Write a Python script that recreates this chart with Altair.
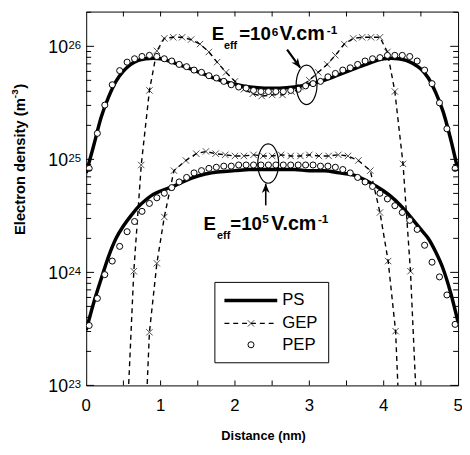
import altair as alt
import pandas as pd

# ---------------- data (log10 of electron density, m^-3) ----------------
ps_x = [0.0, 0.1, 0.2, 0.3, 0.4, 0.5, 0.6, 0.7, 0.8, 0.9, 1.0,
        1.2, 1.4, 1.6, 1.8, 2.0, 2.2, 2.4, 2.6, 2.8, 3.0, 3.2, 3.4, 3.6, 3.8,
        4.0, 4.1, 4.2, 4.3, 4.4, 4.5, 4.6, 4.7, 4.8, 4.9, 5.0]
ps_hi_log = [24.88, 25.12, 25.37, 25.55, 25.69, 25.78, 25.84, 25.875, 25.89, 25.895, 25.89,
             25.85, 25.80, 25.75, 25.70, 25.665, 25.64, 25.63, 25.63, 25.64, 25.665, 25.70, 25.75, 25.80, 25.85,
             25.89, 25.895, 25.89, 25.875, 25.845, 25.80, 25.72, 25.59, 25.42, 25.18, 24.90]
ps_lo_log = [23.49, 23.73, 23.94, 24.14, 24.30, 24.41, 24.50, 24.58, 24.64, 24.69, 24.72,
             24.77, 24.83, 24.87, 24.89, 24.90, 24.91, 24.91, 24.91, 24.91, 24.90, 24.90, 24.88, 24.86, 24.80,
             24.72, 24.67, 24.61, 24.54, 24.46, 24.38, 24.30, 24.18, 24.03, 23.82, 23.56]

gep_hi_x = [0.55, 0.64, 0.74, 0.85, 0.95, 1.05, 1.17, 1.29, 1.41, 1.53, 1.65, 1.76, 1.88, 2.0,
            2.12, 2.24, 2.36, 2.5, 2.64, 2.76, 2.88, 3.0, 3.12, 3.24, 3.35, 3.47, 3.59, 3.71,
            3.83, 3.95, 4.05, 4.15, 4.26, 4.36, 4.45]
gep_hi_log = [22.7, 24.01, 24.95, 25.61, 25.96, 26.07, 26.08, 26.08, 26.06, 26.02, 25.95, 25.86, 25.77, 25.69,
              25.62, 25.58, 25.56, 25.57, 25.57, 25.60, 25.64, 25.70, 25.77, 25.84, 25.92, 26.02, 26.07, 26.08,
              26.08, 26.08, 25.95, 25.60, 24.96, 24.01, 22.7]
gep_lo_x = [0.80, 0.85, 0.95, 1.05, 1.18, 1.34, 1.48, 1.61, 1.74, 1.87, 2.0, 2.12, 2.25, 2.38, 2.5,
            2.62, 2.75, 2.88, 3.0, 3.13, 3.26, 3.39, 3.52, 3.66, 3.82, 3.95, 4.06, 4.16, 4.21]
gep_lo_log = [22.7, 23.47, 24.08, 24.49, 24.90, 24.99, 25.05, 25.07, 25.05, 25.04, 25.03, 25.03, 25.04, 25.03, 25.03,
              25.04, 25.03, 25.03, 25.04, 25.03, 25.03, 25.04, 25.03, 24.99, 24.90, 24.53, 24.10, 23.48, 22.7]

pep_x = [0.04, 0.15, 0.25, 0.35, 0.45, 0.55, 0.65, 0.75, 0.85, 0.95, 1.05, 1.15, 1.25, 1.35, 1.45,
         1.55, 1.65, 1.75, 1.85, 1.95, 2.05, 2.15, 2.25, 2.35, 2.45, 2.55, 2.65, 2.75, 2.85, 2.95,
         3.05, 3.15, 3.25, 3.35, 3.45, 3.55, 3.65, 3.75, 3.85, 3.95, 4.05, 4.15, 4.25, 4.35, 4.45,
         4.55, 4.65, 4.75, 4.85, 4.96]
pep_hi_log = [24.92, 25.23, 25.48, 25.66, 25.785, 25.86, 25.89, 25.91, 25.92, 25.91, 25.89, 25.87, 25.84, 25.82, 25.79,
              25.77, 25.74, 25.72, 25.69, 25.66, 25.64, 25.63, 25.61, 25.60, 25.60, 25.60, 25.60, 25.61, 25.62, 25.65,
              25.67, 25.69, 25.73, 25.76, 25.79, 25.81, 25.84, 25.87, 25.89, 25.90, 25.92, 25.92, 25.92, 25.91, 25.87,
              25.79, 25.67, 25.50, 25.27, 24.92]
pep_lo_log = [23.53, 23.77, 23.98, 24.10, 24.23, 24.36, 24.45, 24.54, 24.61, 24.66, 24.70, 24.75, 24.80, 24.84, 24.88,
              24.90, 24.92, 24.93, 24.94, 24.94, 24.95, 24.95, 24.95, 24.95, 24.95, 24.95, 24.95, 24.95, 24.95, 24.95,
              24.95, 24.94, 24.94, 24.93, 24.91, 24.88, 24.84, 24.80, 24.76, 24.70, 24.65, 24.59, 24.53, 24.46, 24.38,
              24.24, 24.09, 23.96, 23.80, 23.54]

x_label_vals = [0, 1, 2, 3, 4, 5]
x_tick_vals = [0.5, 1.0, 1.5, 2.0, 2.5, 3.0, 3.5, 4.0, 4.5]
y_major_vals = [1e23, 1e24, 1e25, 1e26]
y_exp_labels = ["23", "24", "25", "26"]
y_minor_vals = [m * 10.0 ** e for e in (23, 24, 25) for m in range(2, 10)] + [2e26]
legend_labels = ["PS", "GEP", "PEP"]
field_labels = ["1e6", "1e5"]

# ---------------- layout / style ----------------
W, H = 378, 380
FONT = "Liberation Sans, Arial, sans-serif"

xsc = alt.Scale(domain=[0, 5], nice=False, zero=False)
ysc = alt.Scale(type="log", domain=[1e23, 2.03e26], nice=False)


def frame(xv, lv, name):
    return pd.DataFrame({"x": xv, "n": [10 ** v for v in lv], "field": name})


ps_df = pd.concat([frame(ps_x, ps_hi_log, field_labels[0]), frame(ps_x, ps_lo_log, field_labels[1])])
gep_df = pd.concat([frame(gep_hi_x, gep_hi_log, field_labels[0]), frame(gep_lo_x, gep_lo_log, field_labels[1])])
pep_df = pd.concat([frame(pep_x, pep_hi_log, field_labels[0]), frame(pep_x, pep_lo_log, field_labels[1])])

X = alt.X("x:Q", scale=xsc, axis=None)
Y = alt.Y("n:Q", scale=ysc, axis=None)

XPATH = "M-1,-1L1,1M-1,1L1,-1"
ELLIPSE = ("M0,-1C0.293,-1 0.53,-0.552 0.53,0C0.53,0.552 0.293,1 0,1"
           "C-0.293,1 -0.53,0.552 -0.53,0C-0.53,-0.552 -0.293,-1 0,-1Z")
HEAD = "M0,0L0.8,1.9L0,1.3L-0.8,1.9Z"

layers = []

gep_line = alt.Chart(gep_df).mark_line(color="black", strokeWidth=1.4, strokeDash=[5, 4], clip=True).encode(
    x=X, y=Y, detail="field:N")
gep_pts = alt.Chart(gep_df).mark_point(shape=XPATH, size=42, color="black", strokeWidth=1, filled=False,
                                       clip=True).encode(x=X, y=Y)
ps_line = alt.Chart(ps_df).mark_line(color="black", strokeWidth=3.5, interpolate="monotone", clip=True).encode(
    x=X, y=Y, detail="field:N")
pep_pts = alt.Chart(pep_df).mark_point(shape="circle", size=38, fill="white", stroke="black", strokeWidth=1,
                                       filled=True, opacity=1, clip=True).encode(x=X, y=Y)
layers += [gep_line, ps_line, gep_pts, pep_pts]

# ticks (inward)
xt = pd.DataFrame({"x": x_tick_vals})
layers.append(alt.Chart(xt).mark_rule(color="black", strokeWidth=1).encode(x=X, y=alt.value(H), y2=alt.value(H - 5)))
layers.append(alt.Chart(xt).mark_rule(color="black", strokeWidth=1).encode(x=X, y=alt.value(0), y2=alt.value(5)))
ymaj = pd.DataFrame({"n": y_major_vals, "e": y_exp_labels})
ymin = pd.DataFrame({"n": y_minor_vals})
for df, ln in ((ymaj, 8), (ymin, 5)):
    layers.append(alt.Chart(df).mark_rule(color="black", strokeWidth=1).encode(y=Y, x=alt.value(0), x2=alt.value(ln)))
    layers.append(alt.Chart(df).mark_rule(color="black", strokeWidth=1).encode(y=Y, x=alt.value(W), x2=alt.value(W - ln)))

# y tick labels 10^k
layers.append(alt.Chart(ymaj).mark_text(align="right", baseline="alphabetic", fontSize=18, font=FONT, dy=7,
                                        color="black").encode(y=Y, x=alt.value(-18.5), text=alt.value("10")))
layers.append(alt.Chart(ymaj).mark_text(align="left", baseline="alphabetic", fontSize=11.5, font=FONT, dy=2.5,
                                        color="black").encode(y=Y, x=alt.value(-18), text="e:N"))

# x tick labels
xl = pd.DataFrame({"x": x_label_vals, "t": [str(v) for v in x_label_vals]})
layers.append(alt.Chart(xl).mark_text(align="center", baseline="middle", fontSize=17, font=FONT,
                                      color="black").encode(x=X, y=alt.value(H + 21), text="t:N"))


def txt(s, px, py, fs, bold=True, align="left", angle=0, font=FONT, baseline="alphabetic"):
    kw = dict(align=align, baseline=baseline, fontSize=fs, font=font, color="black",
              fontWeight="bold" if bold else "normal")
    if angle:
        kw["angle"] = angle
    return alt.Chart(alt.Data(values=[{}])).mark_text(**kw).encode(
        x=alt.value(px), y=alt.value(py), text=alt.value(s))


# axis titles
layers.append(txt("Distance (nm)", 180.3, 436, 13, align="center"))
layers.append(txt("Electron density (m", -62.5, 88, 15, align="right", angle=270))
layers.append(txt("-3", -69, 88, 10, align="left", angle=270))
layers.append(txt(")", -62.5, 78.5, 15, align="left", angle=270))

# field annotations
ann = [("E", 127.5, 28.7, 19), ("eff", 140, 38, 11), ("=", 155.5, 28.7, 19), ("10", 166.5, 28.7, 19),
       ("6", 188.5, 24.5, 12), ("V.cm", 196.5, 28.7, 20), ("-1", 244.5, 22.6, 12),
       ("E", 119.2, 222, 19), ("eff", 133, 231.5, 11), ("=", 146.5, 222, 19), ("10", 157.5, 222, 19),
       ("5", 179, 215, 12), ("V.cm", 188, 222, 20), ("-1", 235.5, 215, 12)]
for s, px, py, fs in ann:
    layers.append(txt(s, px, py, fs))

one = alt.Data(values=[{}])
# ellipses
for cx, cy in ((224, 74.5), (185, 154.5)):
    layers.append(alt.Chart(one).mark_point(shape=ELLIPSE, size=1600, filled=False, stroke="black",
                                            strokeWidth=1.2, opacity=1).encode(x=alt.value(cx), y=alt.value(cy)))
# arrows
for (x1, y1, x2, y2, ang, sw) in ((204.2, 38.7, 217.5, 57, 144, 2.2), (182.5, 197, 182.5, 175, 0, 1.6)):
    layers.append(alt.Chart(one).mark_rule(color="black", strokeWidth=sw).encode(
        x=alt.value(x1), y=alt.value(y1), x2=alt.value(x2), y2=alt.value(y2)))
    layers.append(alt.Chart(one).mark_point(shape=HEAD, size=100, filled=True, color="black", angle=ang,
                                            opacity=1).encode(x=alt.value(x2), y=alt.value(y2)))

# legend
layers.append(alt.Chart(one).mark_rect(fill="white", stroke="black", strokeWidth=1).encode(
    x=alt.value(130.8), x2=alt.value(246.5), y=alt.value(275.3), y2=alt.value(357)))
layers.append(alt.Chart(one).mark_rule(color="black", strokeWidth=3.5).encode(
    x=alt.value(140.5), x2=alt.value(194.2), y=alt.value(293.7)))
layers.append(alt.Chart(one).mark_rule(color="black", strokeWidth=1.4, strokeDash=[5, 4]).encode(
    x=alt.value(140.5), x2=alt.value(194.2), y=alt.value(317)))
layers.append(alt.Chart(one).mark_point(shape=XPATH, size=42, color="black", strokeWidth=1, filled=False).encode(
    x=alt.value(167.5), y=alt.value(317)))
layers.append(alt.Chart(one).mark_point(shape="circle", size=38, fill="white", stroke="black", strokeWidth=1,
                                        filled=True, opacity=1).encode(x=alt.value(167.5), y=alt.value(338.7)))
for lab, ly in zip(legend_labels, (293.7, 317, 338.7)):
    layers.append(txt(lab, 199.2, ly, 17, bold=False, baseline="middle"))

chart = alt.layer(*layers).properties(
    width=W, height=H,
    padding={"left": 79.5, "top": 0, "right": 4, "bottom": 60},
    autosize=alt.AutoSizeParams(type="none"),
    background="white",
).configure_view(stroke="black", strokeWidth=1)

chart.save("out.html", embed_options={"renderer": "svg", "actions": False})
